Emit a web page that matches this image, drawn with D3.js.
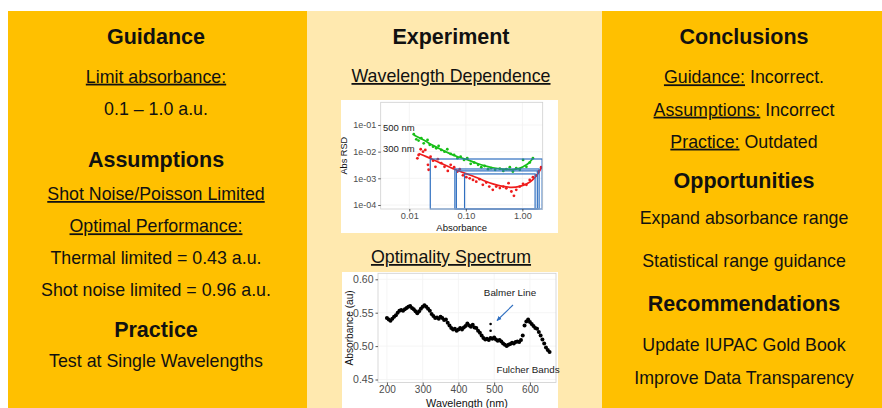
<!DOCTYPE html>
<html>
<head>
<meta charset="utf-8">
<script src="https://cdn.jsdelivr.net/npm/d3@7"></script>
<style>
  html, body { margin: 0; padding: 0; background: #fff; }
  svg { display: block; font-family: "Liberation Sans", Arial, sans-serif; }
</style>
</head>
<body>
<svg id="chart" width="882" height="408"></svg>
<script>
// ─── Text content ──────────────────────────────────────────────
const leftLines = [
  ["Guidance", "h"],
  ["Limit absorbance:", "u"],
  ["0.1 – 1.0 a.u.", "p"],
  ["Assumptions", "h"],
  ["Shot Noise/Poisson Limited", "u"],
  ["Optimal Performance:", "u"],
  ["Thermal limited = 0.43 a.u.", "p"],
  ["Shot noise limited = 0.96 a.u.", "p"],
  ["Practice", "h"],
  ["Test at Single Wavelengths", "p"]
];
const middleLines = [
  ["Experiment", "h"],
  ["Wavelength Dependence", "u"],
  ["Optimality Spectrum", "u"]
];
const rightLines = [
  ["Conclusions", "h"],
  [["Guidance:", " Incorrect."], "m"],
  [["Assumptions:", " Incorrect"], "m"],
  [["Practice:", " Outdated"], "m"],
  ["Opportunities", "h"],
  ["Expand absorbance range", "p"],
  ["Statistical range guidance", "p"],
  ["Recommendations", "h"],
  ["Update IUPAC Gold Book", "p"],
  ["Improve Data Transparency", "p"]
];

// ─── Plot 1: Abs RSD vs absorbance (log/log) ───────────────────
const rsdXTicks = [0.01, 0.1, 1];
const rsdXLabels = ["0.01", "0.10", "1.00"];
const rsdYTicks = [1e-4, 1e-3, 1e-2, 1e-1];
const rsdYLabels = ["1e-04", "1e-03", "1e-02", "1e-01"];
const seriesNames = ["500 nm", "300 nm"];

const green500 = [
  [0.012, 0.045], [0.0133, 0.029], [0.0146, 0.026], [0.0163, 0.032], [0.018, 0.0206],
  [0.021, 0.0275], [0.023, 0.018], [0.0263, 0.0154], [0.030, 0.0134], [0.033, 0.0163],
  [0.0368, 0.0116], [0.042, 0.010], [0.047, 0.0123], [0.054, 0.0082], [0.062, 0.0075],
  [0.071, 0.0057], [0.081, 0.0065], [0.093, 0.0049], [0.106, 0.0057], [0.122, 0.0035],
  [0.14, 0.0039], [0.165, 0.0032], [0.188, 0.0026], [0.215, 0.0029], [0.247, 0.0022],
  [0.28, 0.0024], [0.33, 0.0021], [0.40, 0.0023], [0.46, 0.0019], [0.52, 0.0022],
  [0.60, 0.0026], [0.68, 0.0018], [0.78, 0.0024], [0.90, 0.0021], [1.03, 0.0049],
  [1.18, 0.0027], [1.35, 0.0039], [1.54, 0.0057]
];
const greenFit = [
  [0.012, 0.042], [0.015, 0.033], [0.02, 0.024], [0.025, 0.018], [0.035, 0.0125],
  [0.05, 0.0088], [0.07, 0.0066], [0.1, 0.0052], [0.15, 0.0038], [0.2, 0.0031],
  [0.3, 0.0025], [0.45, 0.0022], [0.65, 0.0021], [0.85, 0.0023], [1.05, 0.0028],
  [1.27, 0.0036], [1.55, 0.0057]
];
const red300 = [
  [0.0139, 0.0056], [0.0146, 0.0075], [0.0159, 0.0123], [0.0175, 0.010], [0.0192, 0.0116],
  [0.0214, 0.0032], [0.022, 0.0021], [0.0238, 0.0065], [0.0263, 0.0046], [0.029, 0.0027],
  [0.032, 0.0052], [0.0368, 0.0037], [0.042, 0.0027], [0.048, 0.0019], [0.054, 0.0032],
  [0.062, 0.0026], [0.071, 0.0018], [0.078, 0.0022], [0.089, 0.0013], [0.102, 0.0011],
  [0.117, 0.0010], [0.134, 0.00087], [0.153, 0.00075], [0.175, 0.00093], [0.20, 0.00057],
  [0.23, 0.00069], [0.26, 0.00049], [0.30, 0.00037], [0.345, 0.00049], [0.40, 0.00043],
  [0.46, 0.00049], [0.52, 0.00042], [0.57, 0.00066], [0.64, 0.00032], [0.71, 0.00022],
  [0.78, 0.00037], [0.90, 0.00049], [1.03, 0.00062], [1.18, 0.00057], [1.35, 0.00087],
  [1.54, 0.0011], [1.76, 0.0013], [1.94, 0.0018], [2.15, 0.0026]
];
const redFit = [
  [0.0146, 0.0085], [0.02, 0.0065], [0.025, 0.0053], [0.035, 0.0038], [0.05, 0.0027],
  [0.07, 0.0020], [0.1, 0.0015], [0.15, 0.0011], [0.2, 0.00085], [0.3, 0.00062],
  [0.45, 0.0005], [0.65, 0.00046], [0.9, 0.0005], [1.2, 0.00062], [1.5, 0.00085],
  [1.8, 0.0013], [2.2, 0.0026]
];
// optimal ranges: [low absorbance, high absorbance, RSD ceiling]
const rangeBoxes = [
  [0.0235, 2.24, 0.0053],
  [0.064, 1.98, 0.00224],
  [0.068, 1.84, 0.0019],
  [0.095, 1.68, 0.00146]
];

// ─── Plot 2: optimality spectrum ───────────────────────────────
const specXTicks = [200, 300, 400, 500, 600];
const specYTicks = [0.45, 0.50, 0.55, 0.60];
const wavelengths = [
  200, 205, 210, 215, 220, 225, 230, 235, 240, 245, 250, 255, 260, 265, 270, 275,
  280, 285, 290, 295, 300, 305, 310, 315, 320, 325, 330, 335, 340, 345, 350, 355,
  360, 365, 370, 375, 380, 385, 390, 395, 400, 405, 410, 415, 420, 425, 430, 435,
  440, 445, 450, 455, 460, 465, 470, 475, 480, 485, 490, 495, 500, 505, 510, 515,
  520, 525, 530, 535, 540, 545, 550, 555, 560, 565, 570, 575, 580, 585, 590, 595,
  600, 605, 610, 615, 620, 625, 630, 635, 640, 645, 650, 655
];
const optimalAbs = [
  0.542, 0.540, 0.538, 0.541, 0.544, 0.546, 0.550, 0.553, 0.554, 0.553, 0.555, 0.557,
  0.559, 0.560, 0.557, 0.555, 0.552, 0.549, 0.552, 0.556, 0.559, 0.561, 0.559, 0.556,
  0.553, 0.548, 0.545, 0.542, 0.543, 0.541, 0.544, 0.542, 0.539, 0.540, 0.535, 0.531,
  0.527, 0.525, 0.526, 0.523, 0.525, 0.527, 0.525, 0.528, 0.530, 0.534, 0.531, 0.529,
  0.532, 0.528, 0.527, 0.523, 0.520, 0.516, 0.512, 0.510, 0.511, 0.509, 0.512, 0.511,
  0.513, 0.510, 0.508, 0.509, 0.507, 0.504, 0.502, 0.500, 0.502, 0.503, 0.505, 0.504,
  0.506, 0.507, 0.506, 0.509, 0.516, 0.531, 0.537, 0.540, 0.536, 0.533, 0.530, 0.527,
  0.526, 0.521, 0.516, 0.510, 0.504, 0.498, 0.494, 0.491
];
const balmerPoints = [[490, 0.533], [490, 0.523]];

// ─── Drawing ───────────────────────────────────────────────────
const svg = d3.select("#chart");
const ORANGE = "#FFC000", CREAM = "#FFE9AF";
const INK = "#111";

svg.append("rect").attr("x", 8).attr("y", 11).attr("width", 299).attr("height", 397).attr("fill", ORANGE);
svg.append("rect").attr("x", 307).attr("y", 11).attr("width", 295).attr("height", 397).attr("fill", CREAM);
svg.append("rect").attr("x", 602).attr("y", 11).attr("width", 280).attr("height", 397).attr("fill", ORANGE);

function writeColumn(lines, cx, baselines) {
  lines.forEach(([content, kind], i) => {
    const t = svg.append("text")
      .attr("x", cx).attr("y", baselines[i])
      .attr("text-anchor", "middle")
      .attr("fill", INK)
      .attr("font-size", kind === "h" ? 21.5 : 17.8)
      .attr("font-weight", kind === "h" ? 700 : 400);
    if (kind === "m") {
      t.append("tspan").style("text-decoration", "underline").text(content[0]);
      t.append("tspan").text(content[1]);
    } else {
      t.text(content);
      if (kind === "u") t.style("text-decoration", "underline");
    }
  });
}

writeColumn(leftLines, 156, [43.5, 82.7, 115, 166.7, 200, 232.3, 264, 296, 337.3, 366.7]);
writeColumn(middleLines, 451, [44, 82, 263]);
writeColumn(rightLines, 744, [44, 83.3, 115.7, 147.7, 188.3, 224, 267, 311, 351, 384]);

function styleAxis(g, size) {
  g.select(".domain").remove();
  g.selectAll(".tick line").attr("stroke", "#333").attr("stroke-width", 0.8);
  g.selectAll(".tick text").attr("fill", "#4d4d4d").attr("font-size", size)
    .attr("font-family", "Liberation Sans, Arial, sans-serif");
}

// Plot 1
(function () {
  svg.append("rect").attr("x", 341).attr("y", 100).attr("width", 217).attr("height", 133).attr("fill", "#fff");
  const L = 380.7, R = 542.7, T = 102.3, B = 209;
  const x = d3.scaleLog().domain([Math.pow(10, -2.506), Math.pow(10, 0.36)]).range([L, R]);
  const y = d3.scaleLog().domain([Math.pow(10, -4.15), Math.pow(10, -0.15)]).range([B, T]);
  const g = svg.append("g");

  g.append("g").selectAll("line").data(rsdXTicks).join("line")
    .attr("x1", d => x(d)).attr("x2", d => x(d)).attr("y1", T).attr("y2", B)
    .attr("stroke", "#f1f1f1").attr("stroke-width", 0.8);
  g.append("g").selectAll("line").data(rsdYTicks).join("line")
    .attr("y1", d => y(d)).attr("y2", d => y(d)).attr("x1", L).attr("x2", R)
    .attr("stroke", "#f1f1f1").attr("stroke-width", 0.8);

  const line = d3.line().x(d => x(d[0])).y(d => y(d[1])).curve(d3.curveMonotoneX);
  g.append("path").datum(greenFit).attr("d", line).attr("fill", "none").attr("stroke", "#17bf17").attr("stroke-width", 1.7);
  g.append("path").datum(redFit).attr("d", line).attr("fill", "none").attr("stroke", "#ee1c1c").attr("stroke-width", 1.7);
  g.append("g").selectAll("circle").data(green500).join("circle")
    .attr("cx", d => x(d[0])).attr("cy", d => y(d[1])).attr("r", 1.4).attr("fill", "#17bf17");
  g.append("g").selectAll("circle").data(red300).join("circle")
    .attr("cx", d => x(d[0])).attr("cy", d => y(d[1])).attr("r", 1.4).attr("fill", "#ee1c1c");

  g.append("g").selectAll("rect").data(rangeBoxes).join("rect")
    .attr("x", d => x(d[0])).attr("y", d => y(d[2]))
    .attr("width", d => x(d[1]) - x(d[0])).attr("height", d => B - y(d[2]))
    .attr("fill", "none").attr("stroke", "#2f6fc0").attr("stroke-width", 1.2);

  g.append("rect").attr("x", L).attr("y", T).attr("width", R - L).attr("height", B - T)
    .attr("fill", "none").attr("stroke", "#cfcfcf").attr("stroke-width", 0.8);

  g.append("text").attr("x", 383).attr("y", y(0.045) - 3).attr("font-size", 9.5).attr("fill", "#222").text(seriesNames[0]);
  g.append("text").attr("x", 383).attr("y", y(0.0085) - 2).attr("font-size", 9.5).attr("fill", "#222").text(seriesNames[1]);

  const ax = g.append("g").attr("transform", `translate(0,${B})`)
    .call(d3.axisBottom(x).tickValues(rsdXTicks).tickSize(2.5).tickPadding(1).tickFormat((d, i) => rsdXLabels[i]));
  styleAxis(ax, 9.2);
  const ay = g.append("g").attr("transform", `translate(${L},0)`)
    .call(d3.axisLeft(y).tickValues(rsdYTicks).tickSize(2.5).tickPadding(2).tickFormat((d, i) => rsdYLabels[i]));
  styleAxis(ay, 9);

  g.append("text").attr("x", (L + R) / 2).attr("y", 230.5).attr("text-anchor", "middle")
    .attr("font-size", 9.5).attr("fill", "#111").text("Absorbance");
  g.append("text").attr("transform", `translate(347,${(T + B) / 2}) rotate(-90)`)
    .attr("text-anchor", "middle").attr("font-size", 9.2).attr("fill", "#111").text("Abs RSD");
})();

// Plot 2
(function () {
  svg.append("rect").attr("x", 342).attr("y", 272).attr("width", 216).attr("height", 136).attr("fill", "#fff");
  const L = 378, R = 556, T = 273.3, B = 382.5;
  const x = d3.scaleLinear().domain([175, 673]).range([L, R]);
  // 0.60 sits at y≈279.3 and 0.45 at y≈379.5 in the reference
  const y = d3.scaleLinear().domain([0.45, 0.60]).range([379.5, 279.3]);
  const g = svg.append("g");

  g.append("g").selectAll("line").data(specXTicks).join("line")
    .attr("x1", d => x(d)).attr("x2", d => x(d)).attr("y1", T).attr("y2", B)
    .attr("stroke", "#f3f3f3").attr("stroke-width", 0.8);
  g.append("g").selectAll("line").data(specYTicks).join("line")
    .attr("y1", d => y(d)).attr("y2", d => y(d)).attr("x1", L).attr("x2", R)
    .attr("stroke", "#f3f3f3").attr("stroke-width", 0.8);

  g.append("g").selectAll("circle").data(wavelengths).join("circle")
    .attr("cx", d => x(d)).attr("cy", (d, i) => y(optimalAbs[i])).attr("r", 2).attr("fill", "#000");
  g.append("g").selectAll("circle").data(balmerPoints).join("circle")
    .attr("cx", d => x(d[0])).attr("cy", d => y(d[1])).attr("r", 1.3).attr("fill", "#000");

  g.append("rect").attr("x", L).attr("y", T).attr("width", R - L).attr("height", B - T)
    .attr("fill", "none").attr("stroke", "#cfcfcf").attr("stroke-width", 0.8);

  const ax = g.append("g").attr("transform", `translate(0,${B})`)
    .call(d3.axisBottom(x).tickValues(specXTicks).tickSize(2.5).tickPadding(1));
  styleAxis(ax, 10);
  const ay = g.append("g").attr("transform", `translate(${L},0)`)
    .call(d3.axisLeft(y).tickValues(specYTicks).tickSize(2.5).tickPadding(2).tickFormat(d3.format(".2f")));
  styleAxis(ay, 10.5);

  g.append("text").attr("x", (L + R) / 2).attr("y", 406.5).attr("text-anchor", "middle")
    .attr("font-size", 10.8).attr("fill", "#111").text("Wavelength (nm)");
  g.append("text").attr("transform", `translate(353,${(T + B) / 2}) rotate(-90)`)
    .attr("text-anchor", "middle").attr("font-size", 10.2).attr("fill", "#111").text("Absorbance (au)");

  // annotations
  svg.append("defs").append("marker")
    .attr("id", "arrow").attr("viewBox", "0 0 10 10").attr("refX", 8).attr("refY", 5)
    .attr("markerWidth", 5).attr("markerHeight", 5).attr("orient", "auto")
    .append("path").attr("d", "M0,1 L9,5 L0,9 Z").attr("fill", "#2f6fc0");
  g.append("line").attr("x1", 513).attr("y1", 305).attr("x2", 497).attr("y2", 320.5)
    .attr("stroke", "#2f6fc0").attr("stroke-width", 1.1).attr("marker-end", "url(#arrow)");
  g.append("text").attr("x", 510).attr("y", 295.5).attr("text-anchor", "middle")
    .attr("font-size", 9.8).attr("fill", "#222").text("Balmer Line");
  g.append("text").attr("x", 528).attr("y", 372.5).attr("text-anchor", "middle")
    .attr("font-size", 9.8).attr("fill", "#222").text("Fulcher Bands");
})();
</script>
</body>
</html>
